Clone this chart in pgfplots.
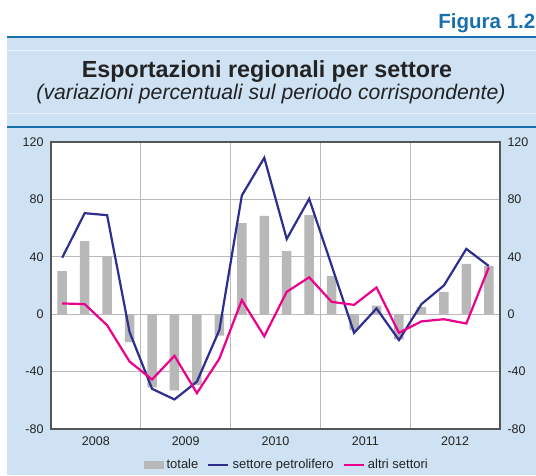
\documentclass[border=0pt]{standalone}
\usepackage{pgfplots}
\pgfplotsset{compat=1.18}
\usepackage{fontspec}
\setmainfont{Liberation Sans}
\definecolor{panel}{RGB}{207,226,243}
\definecolor{hdrblue}{RGB}{24,112,172}
\definecolor{navy}{RGB}{46,46,142}
\definecolor{mag}{RGB}{236,0,140}
\definecolor{bargray}{RGB}{184,184,184}
\definecolor{txt}{RGB}{35,35,35}
\definecolor{gridc}{RGB}{185,185,185}
\definecolor{axisc}{RGB}{85,85,85}
\pgfplotsset{
  lineleg/.style={legend image code/.code={\draw[##1] (0pt,0pt) -- (20pt,0pt);}},
  barleg/.style={legend image code/.code={\fill[bargray] (0pt,-4pt) rectangle (20pt,4pt);}},
}
\begin{document}
\begin{tikzpicture}[x=1pt,y=1pt]
\path[use as bounding box] (0,0) rectangle (536,475);
\fill[panel] (7,0) rectangle (536,437);
\draw[hdrblue, line width=1.5pt] (7,438) -- (536,438);
\draw[white!55!panel, line width=0.8pt] (7,425) -- (536,425);
\draw[white!55!panel, line width=0.8pt] (7,362) -- (536,362);
\draw[hdrblue, line width=2.2pt] (7,348) -- (536,348);
\node[anchor=base east, text=hdrblue, font=\fontsize{20.5}{22}\selectfont\bfseries, inner sep=0] at (535.5,446) {Figura 1.2};
\node[anchor=base, font=\fontsize{23.3}{26}\selectfont\bfseries, text=txt, inner sep=0] at (267,397) {Esportazioni regionali per settore};
\node[anchor=base, font=\fontsize{21.2}{23}\selectfont\itshape, text=txt, inner sep=0] at (271,375) {(variazioni percentuali sul periodo corrispondente)};
\begin{axis}[
  at={(51pt,46pt)}, anchor=south west, scale only axis,
  width=449pt, height=287pt,
  axis background/.style={fill=white},
  xmin=-0.5, xmax=19.5, ymin=-80, ymax=120,
  xtick={1.5,5.5,9.5,13.5,17.5},
  xticklabels={2008,2009,2010,2011,2012},
  minor xtick={3.5,7.5,11.5,15.5},
  xminorgrids, ymajorgrids,
  ytick={-80,-40,0,40,80,120},
  major tick length=0, minor tick length=0,
  grid style={gridc, line width=0.8pt},
  minor grid style={gridc, line width=0.8pt},
  axis line style={axisc, line width=1.2pt},
  tick label style={font=\fontsize{12.5}{14}\selectfont, text=txt},
  /pgf/number format/assume math mode=true,
  xticklabel style={yshift=-4pt},
  yticklabel style={xshift=-4pt},
  legend style={at={(0.525,-0.125)}, anchor=center, legend columns=3, draw=none, fill=none,
    font=\fontsize{13}{15}\selectfont, text=txt, inner sep=0pt,
    /tikz/every odd column/.append style={column sep=1pt},
    /tikz/every even column/.append style={column sep=7pt}},
  legend cell align=left,
]
\addplot[ybar, bar width=9.5pt, fill=bargray, draw=none, barleg] coordinates {
(0,30) (1,51) (2,40.5) (3,-19.5) (4,-51) (5,-53) (6,-49.5) (7,-15)
(8,63.5) (9,68.5) (10,44) (11,69) (12,26.5) (13,-11) (14,6) (15,-17.5)
(16,5) (17,15.6) (18,35) (19,33.5)};
\addlegendentry{totale}
\addplot[navy, line width=2.2pt, lineleg] coordinates {
(0,39.4) (1,70.4) (2,69) (3,-12.4) (4,-52) (5,-59.4) (6,-47) (7,-11)
(8,82.7) (9,109) (10,52.4) (11,80.4) (12,34) (13,-13) (14,4) (15,-18)
(16,7) (17,20) (18,45.5) (19,33.6)};
\addlegendentry{settore petrolifero}
\addplot[mag, line width=2.2pt, lineleg] coordinates {
(0,7.5) (1,7) (2,-7.7) (3,-33) (4,-45.5) (5,-29) (6,-55) (7,-31)
(8,9.8) (9,-15.4) (10,15.6) (11,25.7) (12,8.6) (13,6.5) (14,18.6) (15,-13)
(16,-5) (17,-3.5) (18,-6.5) (19,32.6)};
\addlegendentry{altri settori}
\end{axis}
\begin{axis}[
  at={(51pt,46pt)}, anchor=south west, scale only axis,
  width=449pt, height=287pt,
  xmin=-0.5, xmax=19.5, ymin=-80, ymax=120,
  axis x line=none, axis y line*=right,
  ytick={-80,-40,0,40,80,120},
  major tick length=0,
  axis line style={axisc, line width=1.2pt},
  tick label style={font=\fontsize{12.5}{14}\selectfont, text=txt},
  /pgf/number format/assume math mode=true,
  yticklabel style={xshift=4pt},
]
\addplot[draw=none] coordinates {(0,0)};
\end{axis}
\end{tikzpicture}
\end{document}
